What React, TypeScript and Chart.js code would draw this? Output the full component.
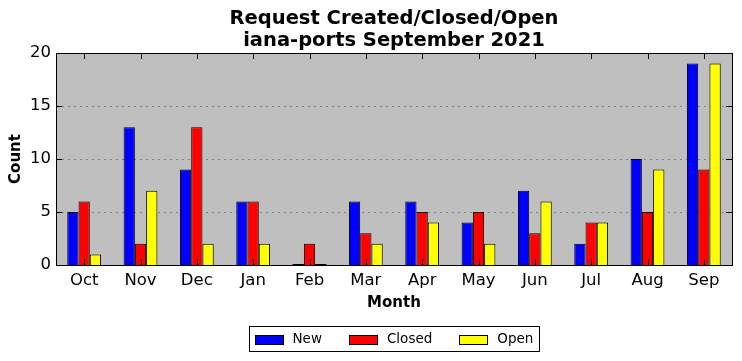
import React, { useEffect, useRef } from "react";
import { Chart, registerables } from "chart.js";

Chart.register(...registerables);

const months = ["Oct", "Nov", "Dec", "Jan", "Feb", "Mar", "Apr", "May", "Jun", "Jul", "Aug", "Sep"];
const newCounts = [5, 13, 9, 6, 0, 6, 6, 4, 7, 2, 10, 19];
const closedCounts = [6, 2, 13, 6, 2, 3, 5, 5, 3, 4, 5, 9];
const openCounts = [1, 7, 2, 2, 0, 2, 4, 2, 6, 4, 9, 19];
const yTicks = [0, 5, 10, 15, 20];
const titleLines = ["Request Created/Closed/Open", "iana-ports September 2021"];

const FONT = "'DejaVu Sans', sans-serif";

const framePlugin = {
  id: "frame",
  beforeDatasetsDraw(chart: any) {
    const { ctx, chartArea: a } = chart;
    ctx.save();
    ctx.fillStyle = "#bfbfbf";
    ctx.fillRect(a.left, a.top, a.right - a.left, a.bottom - a.top);
    ctx.strokeStyle = "#808080";
    ctx.lineWidth = 1;
    ctx.setLineDash([2, 4]);
    const ys = chart.scales.y;
    for (const v of yTicks) {
      const y = Math.round(ys.getPixelForValue(v)) + 0.5;
      ctx.beginPath();
      ctx.moveTo(a.left, y);
      ctx.lineTo(a.right, y);
      ctx.stroke();
    }
    ctx.restore();
  },
  afterDatasetsDraw(chart: any) {
    const { ctx, chartArea: a } = chart;
    ctx.save();
    ctx.strokeStyle = "#000";
    ctx.lineWidth = 1;
    ctx.setLineDash([]);
    const ys = chart.scales.y;
    const xs = chart.scales.x;
    const L = 6;
    ctx.beginPath();
    for (const v of yTicks) {
      const y = Math.round(ys.getPixelForValue(v)) + 0.5;
      ctx.moveTo(a.left, y);
      ctx.lineTo(a.left + L, y);
      ctx.moveTo(a.right, y);
      ctx.lineTo(a.right - L, y);
    }
    for (let i = 0; i < months.length; i++) {
      const x = Math.round(xs.getPixelForValue(i)) + 0.5;
      ctx.moveTo(x, a.top);
      ctx.lineTo(x, a.top + L);
      ctx.moveTo(x, a.bottom);
      ctx.lineTo(x, a.bottom - L);
    }
    chart.data.datasets.forEach((d: any, di: number) => {
      const meta = chart.getDatasetMeta(di);
      d.data.forEach((v: number, i: number) => {
        if (v === 0) {
          const el = meta.data[i];
          const y = Math.round(ys.getPixelForValue(0)) - 0.5;
          ctx.moveTo(el.x - el.width / 2, y);
          ctx.lineTo(el.x + el.width / 2, y);
        }
      });
    });
    ctx.stroke();
    ctx.strokeRect(Math.round(a.left) + 0.5, Math.round(a.top) + 0.5, Math.round(a.right - a.left), Math.round(a.bottom - a.top));
    ctx.restore();
  },
  afterDraw(chart: any) {
    const { ctx, chartArea: a } = chart;
    const cx = (a.left + a.right) / 2;
    ctx.save();
    ctx.fillStyle = "#000";
    ctx.font = `bold 19.5px ${FONT}`;
    ctx.textAlign = "center";
    ctx.textBaseline = "middle";
    ctx.fillText(titleLines[0], cx, 19);
    ctx.fillText(titleLines[1], cx, 41);
    const ds = chart.data.datasets;
    ctx.font = `13.5px ${FONT}`;
    const sw = 28, gapText = 10, gapItem = 27, padL = 5, padR = 6;
    const widths = ds.map((d: any) => ctx.measureText(d.label).width);
    let total = padL + padR;
    widths.forEach((w: number, i: number) => {
      total += sw + gapText + w + (i < widths.length - 1 ? gapItem : 0);
    });
    const left = Math.round(cx - total / 2) + 0.5;
    const top = 326.5;
    const h = 25;
    ctx.fillStyle = "#fff";
    ctx.fillRect(left, top, total, h);
    ctx.strokeStyle = "#000";
    ctx.lineWidth = 1;
    ctx.strokeRect(left, top, Math.round(total), h);
    let x = left + padL;
    const midY = top + h / 2;
    ds.forEach((d: any, i: number) => {
      ctx.fillStyle = d.backgroundColor;
      ctx.fillRect(Math.round(x), Math.round(midY - 4.5), sw, 9);
      ctx.strokeRect(Math.round(x) + 0.5, Math.round(midY - 4.5) + 0.5, sw, 9);
      x += sw + gapText;
      ctx.fillStyle = "#000";
      ctx.textBaseline = "middle";
      ctx.textAlign = "left";
      ctx.fillText(d.label, x, midY);
      x += widths[i] + gapItem;
    });
    ctx.restore();
  },
};

export default function App() {
  const ref = useRef<HTMLCanvasElement | null>(null);
  useEffect(() => {
    document.body.style.margin = "0";
    const canvas = ref.current!;
    const chart = new Chart(canvas, {
      type: "bar",
      data: {
        labels: months,
        datasets: [
          { label: "New", data: newCounts, backgroundColor: "#0000ff", borderColor: "#000", borderWidth: 1 },
          { label: "Closed", data: closedCounts, backgroundColor: "#ff0000", borderColor: "#000", borderWidth: 1 },
          { label: "Open", data: openCounts, backgroundColor: "#ffff00", borderColor: "#000", borderWidth: 1 },
        ],
      },
      options: {
        animation: false,
        responsive: false,
        devicePixelRatio: 1,
        layout: { padding: { left: 0, right: 10, top: 53, bottom: 36 } },
        datasets: { bar: { categoryPercentage: 0.6, barPercentage: 1.0 } },
        plugins: {
          legend: { display: false },
          tooltip: { enabled: false },
          title: { display: false },
        },
        scales: {
          x: {
            grid: { display: false, drawTicks: false },
            border: { display: false },
            ticks: { color: "#000", font: { family: FONT, size: 16.5 }, padding: 6, maxRotation: 0 },
            title: {
              display: true,
              text: "Month",
              color: "#000",
              font: { family: FONT, size: 15, weight: "bold" },
              padding: { top: 4, bottom: 13 },
            },
            afterFit: (s: any) => { s.height = 60; },
          },
          y: {
            min: 0,
            max: 20,
            grid: { display: false, drawTicks: false },
            border: { display: false },
            afterBuildTicks: (s: any) => { s.ticks = yTicks.map((v) => ({ value: v })); },
            ticks: { color: "#000", font: { family: FONT, size: 16.5 }, padding: 5 },
            title: {
              display: true,
              text: "Count",
              color: "#000",
              font: { family: FONT, size: 15, weight: "bold" },
              padding: { top: 7, bottom: 0 },
            },
            afterFit: (s: any) => { s.width = 56; },
          },
        },
      } as any,
      plugins: [framePlugin],
    });
    return () => chart.destroy();
  }, []);
  return (
    <div style={{ width: 742, height: 361 }}>
      <canvas ref={ref} width={742} height={361} style={{ display: "block" }} />
    </div>
  );
}
